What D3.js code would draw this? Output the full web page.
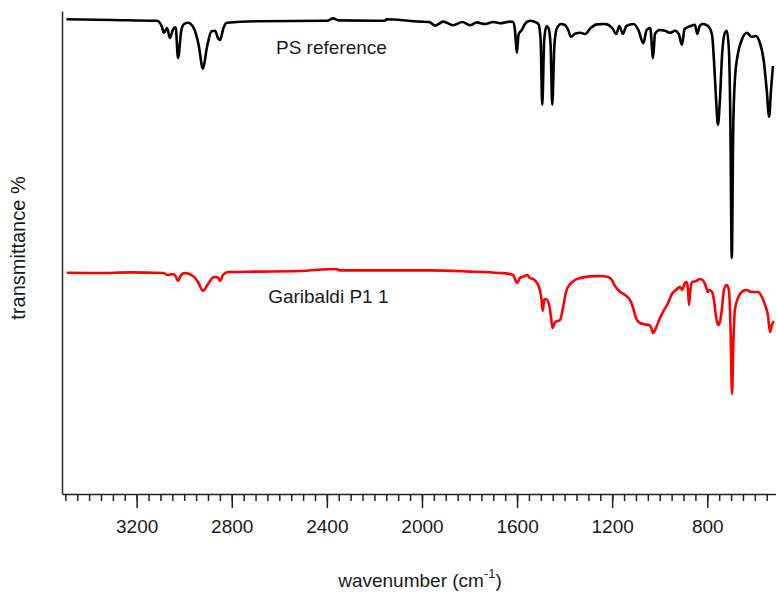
<!DOCTYPE html>
<html>
<head>
<meta charset="utf-8">
<script src="https://cdn.jsdelivr.net/npm/d3@7"></script>
<style>
	body { margin: 0; background: #fff; }
	text { font-family: "Liberation Sans", Arial, sans-serif; fill: #1a1a1a; }
</style>
</head>
<body>
<svg id="chart" width="776" height="596"></svg>
<script>

// PS reference spectrum: [wavenumber, transmittance (offset)]
var psReference = [
	[3495, 118.2], [3300, 118.0], [3115, 117.8], [3095, 116.5], [3085, 114.8], [3072, 116.0],
	[3060, 113.5], [3048, 115.5], [3036, 116.2], [3026, 108.5], [3012, 115.5], [3000, 117.0],
	[2984, 117.3], [2960, 116.0], [2940, 112.0], [2921, 105.8], [2905, 111.0], [2885, 115.2],
	[2870, 115.3], [2858, 113.5], [2849, 113.0], [2835, 116.0], [2820, 117.3], [2681, 117.7],
	[2400, 117.8], [2374, 118.4], [2350, 117.9], [2155, 117.8], [2150, 118.2], [2008, 117.6],
	[1970, 117.5], [1945, 116.6], [1910, 117.6], [1869, 116.7], [1830, 117.5], [1798, 116.7],
	[1770, 117.4], [1735, 117.0], [1700, 117.5], [1672, 117.2], [1630, 117.6], [1617, 117.5],
	[1609, 115.5], [1601, 109.8], [1594, 114.3], [1588, 115.0], [1580, 115.5], [1567, 117.0],
	[1546, 117.8], [1516, 117.3], [1509, 116.8], [1501, 113.0], [1494, 96.8], [1486, 113.0],
	[1476, 116.5], [1468, 116.0], [1459, 111.8], [1452, 96.8], [1443, 111.8], [1432, 116.0],
	[1415, 117.0], [1398, 116.7], [1385, 115.5], [1373, 113.8], [1355, 114.6], [1335, 114.8],
	[1314, 114.5], [1290, 116.0], [1264, 116.9], [1230, 117.0], [1200, 116.0], [1183, 114.5],
	[1170, 116.5], [1155, 114.5], [1140, 116.5], [1110, 117.0], [1090, 115.5], [1069, 112.2],
	[1055, 115.5], [1040, 116.0], [1028, 108.5], [1020, 114.5], [1000, 115.5], [978, 115.3],
	[957, 114.8], [936, 115.3], [920, 114.5], [907, 111.8], [895, 115.8], [870, 116.5],
	[852, 116.8], [842, 114.5], [832, 116.5], [818, 117.0], [797, 116.5], [780, 114.3],
	[772, 108.0], [763, 98.0], [755, 91.8], [747, 98.0], [738, 109.0], [726, 114.8],
	[718, 115.3], [709, 110.5], [703, 93.0], [697, 58.5], [691, 90.5], [684, 103.0],
	[672, 109.3], [655, 113.0], [634, 114.8], [613, 113.8], [596, 114.0], [580, 112.5],
	[563, 108.0], [550, 100.5], [540, 93.8], [532, 100.5], [524, 106.5]
];

// Garibaldi P1 1 spectrum
var garibaldi = [
	[3494, 54.8], [3354, 54.75], [3228, 54.9], [3089, 54.75], [3068, 54.25], [3051, 54.5],
	[3039, 54.25], [3026, 52.8], [3013, 54.25], [2997, 54.75], [2963, 54.0], [2942, 52.5],
	[2921, 50.3], [2900, 52.0], [2875, 53.75], [2858, 53.6], [2849, 52.75], [2837, 54.25],
	[2816, 55.0], [2681, 55.1], [2513, 55.25], [2361, 55.75], [2345, 55.4], [2092, 55.4],
	[1966, 55.4], [1798, 55.1], [1672, 54.75], [1638, 54.6], [1617, 54.25], [1609, 53.25],
	[1600, 52.25], [1588, 53.5], [1571, 53.9], [1558, 54.25], [1546, 53.5], [1533, 53.25],
	[1516, 52.25], [1504, 50.5], [1497, 48.0], [1492, 45.3], [1486, 48.0], [1478, 48.25],
	[1465, 46.75], [1457, 43.5], [1451, 41.0], [1440, 42.5], [1419, 43.0], [1407, 46.0],
	[1394, 50.0], [1377, 52.0], [1356, 53.0], [1335, 53.5], [1293, 53.9], [1251, 54.0],
	[1217, 53.75], [1201, 53.0], [1188, 51.5], [1171, 50.25], [1146, 49.25], [1125, 48.0],
	[1112, 46.0], [1100, 43.5], [1083, 42.25], [1062, 41.9], [1045, 41.75], [1037, 41.25],
	[1028, 39.75], [1016, 41.0], [999, 43.5], [982, 45.5], [965, 47.25], [949, 49.5],
	[932, 50.5], [915, 51.25], [906, 50.5], [894, 52.25], [887, 52.5], [881, 50.5],
	[877, 46.75], [872, 50.0], [864, 52.5], [847, 52.75], [831, 53.25], [818, 52.9],
	[805, 51.25], [797, 50.0], [791, 50.5], [780, 50.0], [772, 48.0], [764, 44.25],
	[755, 41.75], [747, 42.5], [738, 46.0], [730, 50.5], [718, 51.75], [709, 50.5],
	[702, 40.5], [696, 24.5], [690, 38.0], [684, 45.5], [671, 48.5], [655, 50.0],
	[637, 50.5], [612, 50.0], [587, 50.0], [570, 48.75], [557, 46.75], [545, 44.25],
	[536, 40.0], [528, 41.75], [521, 42.75]
];

var majorTicks = [3200, 2800, 2400, 2000, 1600, 1200, 800];
var minorTicks = d3.range(3500, 549, -50);

var labels = [
	{ text: "PS reference", wn: 2614, value: 111.25 },
	{ text: "Garibaldi P1 1", wn: 2647, value: 49.0 }
];

var svg = d3.select("#chart");

var margin = { left: 62, right: 0, top: 11, bottom: 102 };
var width = 776, height = 596;

var xScale = d3.scaleLinear()
	.domain([3514, 511])
	.range([margin.left, width - margin.right]);

var yScale = d3.scaleLinear()
	.domain([-0.5, 120.25])
	.range([height - margin.bottom, margin.top]);

// minor ticks (with the spine)
svg.append("g")
	.attr("transform", "translate(0," + yScale.range()[0] + ")")
	.call(d3.axisBottom(xScale).tickValues(minorTicks).tickSize(7).tickSizeOuter(0).tickFormat(""))
	.call(g => g.selectAll("path, line").attr("stroke", "#222").attr("stroke-width", 1.5));

// major ticks + labels
svg.append("g")
	.attr("transform", "translate(0," + yScale.range()[0] + ")")
	.call(d3.axisBottom(xScale).tickValues(majorTicks).tickSize(14).tickSizeOuter(0)
		.tickPadding(12).tickFormat(d3.format("d")))
	.call(g => g.select(".domain").remove())
	.call(g => g.selectAll("line").attr("stroke", "#222").attr("stroke-width", 1.5))
	.call(g => g.selectAll("text").attr("font-size", 19).attr("fill", "#1a1a1a")
		.attr("font-family", "Liberation Sans, Arial, sans-serif"));

// left spine, no ticks
svg.append("g")
	.attr("transform", "translate(" + margin.left + ",0)")
	.call(d3.axisLeft(yScale).tickValues([]).tickSizeOuter(0))
	.call(g => g.select(".domain").attr("stroke", "#222").attr("stroke-width", 1.5));

var line = d3.line()
	.x(d => xScale(d[0]))
	.y(d => yScale(d[1]))
	.curve(d3.curveMonotoneX);

svg.append("path")
	.datum(psReference)
	.attr("fill", "none")
	.attr("stroke", "#000")
	.attr("stroke-width", 2.6)
	.attr("stroke-linejoin", "round")
	.attr("d", line);

svg.append("path")
	.datum(garibaldi)
	.attr("fill", "none")
	.attr("stroke", "#ff0000")
	.attr("stroke-width", 2.6)
	.attr("stroke-linejoin", "round")
	.attr("d", line);

svg.selectAll(".series-label")
	.data(labels)
	.enter()
	.append("text")
	.attr("class", "series-label")
	.attr("x", d => xScale(d.wn))
	.attr("y", d => yScale(d.value))
	.attr("dominant-baseline", "central")
	.attr("font-size", 19)
	.text(d => d.text);

// axis titles
var xTitle = svg.append("text")
	.attr("x", 420)
	.attr("y", 587)
	.attr("text-anchor", "middle")
	.attr("font-size", 19);
xTitle.append("tspan").text("wavenumber (cm");
xTitle.append("tspan").attr("dy", -9).attr("font-size", 13).text("-1");
xTitle.append("tspan").attr("dy", 9).text(")");

svg.append("text")
	.attr("transform", "translate(25,248) rotate(-90)")
	.attr("text-anchor", "middle")
	.attr("font-size", 20)
	.text("transmittance %");

</script>
</body>
</html>
